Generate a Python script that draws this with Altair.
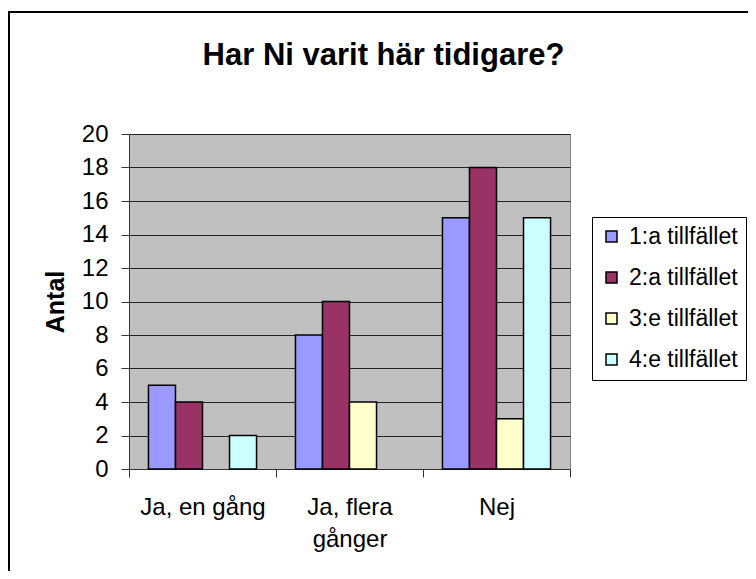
import altair as alt
import pandas as pd

categories = ["Ja, en gång", "Ja, flera gånger", "Nej"]
series = ["1:a tillfället", "2:a tillfället", "3:e tillfället", "4:e tillfället"]
s1 = [5, 8, 15]
s2 = [4, 10, 18]
s3 = [0, 4, 3]
s4 = [2, 0, 15]
colors = ["#9999FF", "#993366", "#FFFFCC", "#CCFFFF"]
title_text = "Har Ni varit här tidigare?"
y_ticks = [0, 2, 4, 6, 8, 10, 12, 14, 16, 18, 20]

rows = []
for s, vals in zip(series, [s1, s2, s3, s4]):
    for c, v in zip(categories, vals):
        rows.append({"kat": c, "serie": s, "antal": v})
df = pd.DataFrame(rows)

FONT = "Liberation Sans"
W, H = 441, 335
PAD = {"left": 121, "top": 126, "right": 178, "bottom": 102}

bars = alt.Chart(df).transform_filter("datum.antal > 0").mark_bar(
    stroke="black", strokeWidth=1.5
).encode(
    x=alt.X("kat:N", sort=categories,
            scale=alt.Scale(paddingInner=0, paddingOuter=0),
            axis=alt.Axis(title=None, labelAngle=0, tickBand="extent",
                          tickSize=8, labelPadding=18, grid=False,
                          labelFontSize=24, labelLineHeight=32,
                          labelExpr="datum.value == 'Ja, flera gånger' ? ['Ja, flera', 'gånger'] : datum.value")),
    xOffset=alt.XOffset("serie:N", sort=series,
                        scale=alt.Scale(paddingInner=0, paddingOuter=0.72)),
    y=alt.Y("antal:Q", scale=alt.Scale(domain=[0, 20], nice=False),
            axis=alt.Axis(title="Antal", values=y_ticks, tickSize=8, labelPadding=13,
                          labelFontSize=24, titleFontSize=25, titleFontWeight="bold",
                          titleX=-66, titleY=167.5, titleBaseline="alphabetic",
                          titleAngle=270, grid=True, gridColor="#222222")),
    color=alt.Color("serie:N", sort=series,
                    scale=alt.Scale(domain=series, range=colors),
                    legend=alt.Legend(title=None, orient="none", legendX=463, legendY=83,
                                      strokeColor="black", fillColor="white", padding=8,
                                      symbolType="square", symbolSize=121,
                                      symbolStrokeColor="black", symbolStrokeWidth=1.5,
                                      labelFontSize=23, labelOffset=6, rowPadding=17)),
)

title_df = pd.DataFrame({"t": [title_text]})
title = alt.Chart(title_df).mark_text(
    font=FONT, fontSize=31, fontWeight="bold", align="center", baseline="alphabetic",
    color="black"
).encode(text="t:N", x=alt.value(254.5), y=alt.value(-69))

frame_left = alt.Chart().mark_rule(color="black", strokeWidth=2).encode(
    x=alt.value(-120), y=alt.value(-122), y2=alt.value(437))
frame_top = alt.Chart().mark_rule(color="black", strokeWidth=2).encode(
    x=alt.value(-121), x2=alt.value(619), y=alt.value(-122))

chart = alt.layer(bars, title, frame_left, frame_top).properties(
    width=W, height=H, padding=PAD,
    autosize=alt.AutoSizeParams(type="none"),
    background="white",
).configure_view(
    fill="#C0C0C0", stroke="#808080", strokeWidth=1
).configure_axis(
    labelFont=FONT, titleFont=FONT, labelColor="black", titleColor="black",
    domainColor="#333333", tickColor="#333333", domainWidth=1, tickWidth=1
).configure_legend(
    labelFont=FONT, labelColor="black"
)

chart.save("out.html", embed_options={"renderer": "svg", "actions": False})
